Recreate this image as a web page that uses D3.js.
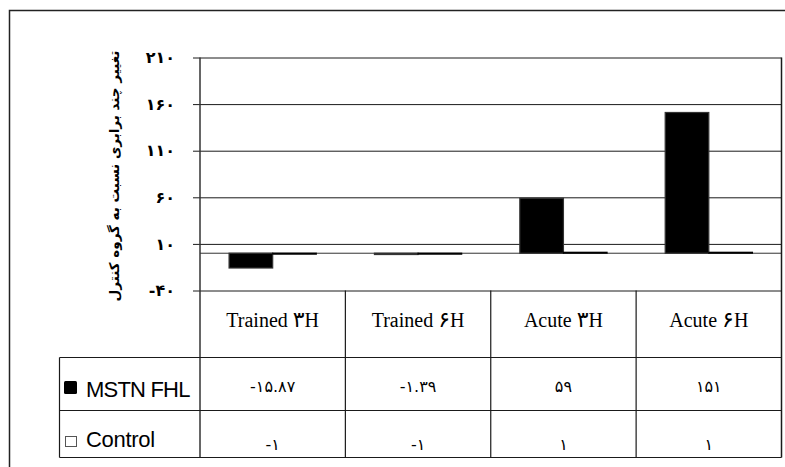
<!DOCTYPE html>
<html>
<head>
<meta charset="utf-8">
<script src="https://cdn.jsdelivr.net/npm/d3@7"></script>
<style>
  body { margin: 0; background: #fff; }
  svg { display: block; }
</style>
</head>
<body>
<svg id="chart" width="785" height="467"></svg>
<script>
// Chart data
const categories = ["Trained ۳H", "Trained ۶H", "Acute ۳H", "Acute ۶H"];
const seriesNames = ["MSTN FHL", "Control"];
const mstnValues = [-15.87, -1.39, 59, 151];
const controlValues = [-1, -1, 1, 1];
const yTicks = [-40, 10, 60, 110, 160, 210];
const yTitle = "تغییر چند برابری نسبت به گروه کنترل";

// Western digits -> Persian digits
const persianDigits = "۰۱۲۳۴۵۶۷۸۹";
const toPersian = v => String(v).replace(/\d/g, d => persianDigits[d]);

const series = [
  { name: seriesNames[0], values: mstnValues, fill: "#000", stroke: "#333" },
  { name: seriesNames[1], values: controlValues, fill: "#fff", stroke: "#000" }
];

// Layout
const plotLeft = 200, plotRight = 781.5, plotTop = 57.5, plotBottom = 290.5;
const catRowBottom = 357.5, row1Bottom = 410.5, row2Bottom = 457.5;
const legendLeft = 59.5;

const svg = d3.select("#chart");
const lineColor = "#1a1a1a";

// Outer frame (left and top edges)
svg.append("path")
  .attr("d", "M9.5,467V10.5H785")
  .attr("fill", "none")
  .attr("stroke", "#222")
  .attr("stroke-width", 1.5);

const x = d3.scaleBand().domain(categories).range([plotLeft, plotRight]);
const xs = d3.scaleBand().domain(seriesNames).range([0, x.bandwidth()])
  .paddingInner(0).paddingOuter(2 / 3);
const y = d3.scaleLinear().domain([yTicks[0], yTicks[yTicks.length - 1]])
  .range([plotBottom, plotTop]);

// Gridlines + tick marks + tick labels
const axisX = 193;
const yAxis = d3.axisLeft(y)
  .tickValues(yTicks)
  .tickSize(-(plotRight - axisX))
  .tickPadding(18)
  .tickFormat(toPersian);
const gy = svg.append("g").attr("transform", `translate(${axisX},0)`).call(yAxis);
gy.select(".domain").remove();
gy.selectAll(".tick line").attr("stroke", lineColor).attr("stroke-width", 1);
gy.selectAll(".tick text")
  .attr("font-family", "DejaVu Sans, sans-serif")
  .attr("font-size", 16)
  .attr("font-weight", "bold")
  .attr("fill", "#000");

// Zero line
svg.append("line")
  .attr("x1", plotLeft).attr("x2", plotRight)
  .attr("y1", y(0)).attr("y2", y(0))
  .attr("stroke", "#333").attr("stroke-width", 1);

// Bars
series.forEach(s => {
  svg.append("g").selectAll("rect")
    .data(s.values.map((v, i) => ({ cat: categories[i], v })))
    .join("rect")
    .attr("x", d => x(d.cat) + xs(s.name))
    .attr("width", xs.bandwidth())
    .attr("y", d => y(Math.max(0, d.v)))
    .attr("height", d => Math.abs(y(d.v) - y(0)))
    .attr("fill", s.fill)
    .attr("stroke", s.stroke)
    .attr("stroke-width", 1.2);
});

// Axis line and plot right edge
svg.append("line")
  .attr("x1", plotLeft).attr("x2", plotLeft)
  .attr("y1", plotTop).attr("y2", row2Bottom)
  .attr("stroke", "#333").attr("stroke-width", 1.5);
svg.append("line")
  .attr("x1", plotRight).attr("x2", plotRight)
  .attr("y1", plotTop).attr("y2", row2Bottom)
  .attr("stroke", lineColor).attr("stroke-width", 1.5);

// Y axis title
svg.append("text")
  .attr("transform", `translate(114,176) rotate(-90)`)
  .attr("text-anchor", "middle")
  .attr("dominant-baseline", "central")
  .attr("direction", "rtl")
  .attr("font-family", "DejaVu Sans, sans-serif")
  .attr("font-weight", "bold")
  .attr("font-size", 13.5)
  .text(yTitle);

// Data table grid
const tableLines = svg.append("g").attr("stroke", lineColor).attr("stroke-width", 1.2);
[catRowBottom, row1Bottom, row2Bottom].forEach(yy => {
  tableLines.append("line")
    .attr("x1", legendLeft).attr("x2", plotRight)
    .attr("y1", yy).attr("y2", yy);
});
tableLines.append("line")
  .attr("x1", legendLeft).attr("x2", legendLeft)
  .attr("y1", catRowBottom).attr("y2", row2Bottom);
categories.slice(1).forEach(c => {
  tableLines.append("line")
    .attr("x1", x(c)).attr("x2", x(c))
    .attr("y1", plotBottom).attr("y2", row2Bottom);
});

// Category labels (Persian digits set a little larger to sit at cap height)
const catLabels = svg.append("g").selectAll("text")
  .data(categories)
  .join("text")
  .attr("x", d => x(d) + x.bandwidth() / 2)
  .attr("y", 327)
  .attr("text-anchor", "middle")
  .attr("font-family", "Liberation Serif, serif")
  .attr("font-size", 20);
catLabels.each(function (d) {
  const t = d3.select(this);
  d.split(/([۰-۹]+)/).filter(p => p.length).forEach(part => {
    const sp = t.append("tspan").text(part);
    if (/[۰-۹]/.test(part)) sp.attr("font-family", "DejaVu Sans, sans-serif").attr("font-size", 22);
  });
});

// Value rows
const rowBaselines = [392, 450];
series.forEach((s, si) => {
  svg.append("g").selectAll("text")
    .data(s.values.map((v, i) => ({ cat: categories[i], v })))
    .join("text")
    .attr("x", d => x(d.cat) + x.bandwidth() / 2)
    .attr("y", rowBaselines[si])
    .attr("text-anchor", "middle")
    .attr("font-family", "DejaVu Sans, sans-serif")
    .attr("font-size", 16)
    .text(d => toPersian(d.v));
});

// Legend keys and series names
svg.append("rect")
  .attr("x", 64).attr("y", 381).attr("width", 13).attr("height", 13)
  .attr("rx", 1.5).attr("fill", "#000");
svg.append("rect")
  .attr("x", 65.5).attr("y", 436.5).attr("width", 11).attr("height", 10)
  .attr("fill", "#fff").attr("stroke", "#555");
const legendBaselines = [397, 447];
series.forEach((s, si) => {
  svg.append("text")
    .attr("x", 86)
    .attr("y", legendBaselines[si])
    .attr("font-family", "Liberation Sans, Arial, sans-serif")
    .attr("font-size", 22)
    .attr("letter-spacing", si === 0 ? -0.8 : -0.3)
    .text(s.name);
});
</script>
</body>
</html>
